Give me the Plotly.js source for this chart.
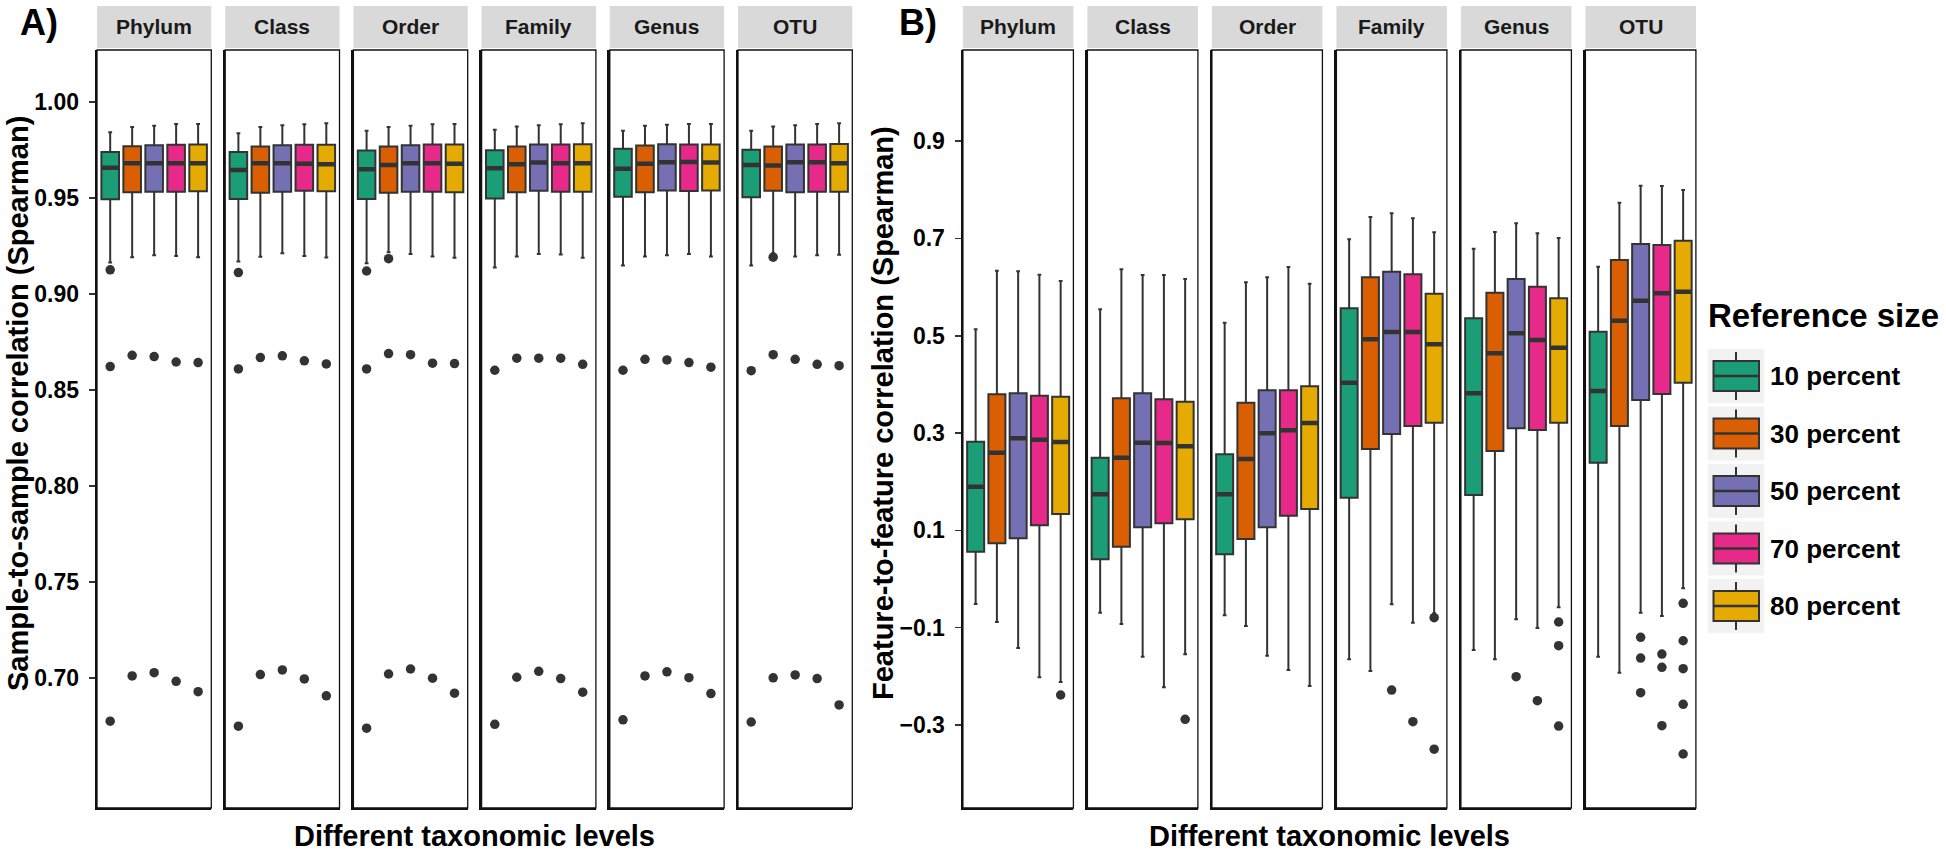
<!DOCTYPE html>
<html>
<head>
<meta charset="utf-8">
<script src="https://cdn.plot.ly/plotly-3.0.1.min.js"></script>
<style>html,body{margin:0;padding:0;background:#fff;}#chart{width:1946px;height:851px;}</style>
</head>
<body>
<div id="chart"></div>
<script>
// ---------------- DATA ----------------
const levels = ['Phylum', 'Class', 'Order', 'Family', 'Genus', 'OTU'];
const refSizes = ['10 percent', '30 percent', '50 percent', '70 percent', '80 percent'];
const sizeColors = ['#1B9E77', '#D95F02', '#7570B3', '#E7298A', '#E6AB02'];

// Panel A: sample-to-sample correlation, one row per taxonomic level, one value per reference size
const sampleLowerWhisker = [
  [0.9165, 0.9193, 0.9203, 0.9199, 0.9193],
  [0.9170, 0.9195, 0.9214, 0.9199, 0.9191],
  [0.9161, 0.9219, 0.9210, 0.9197, 0.9190],
  [0.9139, 0.9197, 0.9210, 0.9207, 0.9190],
  [0.9149, 0.9197, 0.9203, 0.9210, 0.9197],
  [0.9150, 0.9214, 0.9197, 0.9203, 0.9205]
];
const sampleQ1 = [
  [0.9495, 0.9531, 0.9534, 0.9534, 0.9536],
  [0.9496, 0.9529, 0.9534, 0.9539, 0.9536],
  [0.9496, 0.9529, 0.9534, 0.9534, 0.9531],
  [0.9498, 0.9531, 0.9539, 0.9534, 0.9534],
  [0.9508, 0.9531, 0.9540, 0.9538, 0.9540],
  [0.9505, 0.9539, 0.9531, 0.9534, 0.9534]
];
const sampleMedian = [
  [0.9659, 0.9682, 0.9682, 0.9682, 0.9682],
  [0.9647, 0.9682, 0.9682, 0.9679, 0.9677],
  [0.9651, 0.9673, 0.9682, 0.9682, 0.9679],
  [0.9656, 0.9677, 0.9686, 0.9682, 0.9682],
  [0.9653, 0.9679, 0.9687, 0.9689, 0.9686],
  [0.9673, 0.9670, 0.9687, 0.9687, 0.9682]
];
const sampleQ3 = [
  [0.9741, 0.9771, 0.9776, 0.9778, 0.9780],
  [0.9741, 0.9769, 0.9776, 0.9778, 0.9778],
  [0.9748, 0.9769, 0.9776, 0.9780, 0.9780],
  [0.9750, 0.9769, 0.9780, 0.9780, 0.9781],
  [0.9758, 0.9774, 0.9781, 0.9780, 0.9780],
  [0.9753, 0.9769, 0.9780, 0.9780, 0.9783]
];
const sampleUpperWhisker = [
  [0.9844, 0.9871, 0.9877, 0.9887, 0.9887],
  [0.9839, 0.9871, 0.9880, 0.9885, 0.9890],
  [0.9851, 0.9871, 0.9877, 0.9885, 0.9887],
  [0.9856, 0.9873, 0.9880, 0.9885, 0.9890],
  [0.9851, 0.9878, 0.9883, 0.9887, 0.9887],
  [0.9851, 0.9873, 0.9880, 0.9887, 0.9890]
];
const sampleOutliers = [
  [[0.9127, 0.8623, 0.6776], [0.8682, 0.7012], [0.8675, 0.7029], [0.8647, 0.6984], [0.8644, 0.6930]],
  [[0.9113, 0.8611, 0.6750], [0.8670, 0.7019], [0.8679, 0.7043], [0.8653, 0.6996], [0.8637, 0.6908]],
  [[0.9121, 0.8611, 0.6740], [0.9185, 0.8691, 0.7022], [0.8685, 0.7048], [0.8641, 0.7000], [0.8639, 0.6922]],
  [[0.8604, 0.6760], [0.8667, 0.7005], [0.8667, 0.7036], [0.8667, 0.6998], [0.8635, 0.6927]],
  [[0.8604, 0.6783], [0.8661, 0.7012], [0.8658, 0.7033], [0.8644, 0.7003], [0.8620, 0.6920]],
  [[0.8602, 0.6772], [0.9193, 0.8685, 0.7002], [0.8661, 0.7017], [0.8635, 0.6998], [0.8628, 0.6861]]
];
const sampleTicks = [0.70, 0.75, 0.80, 0.85, 0.90, 0.95, 1.00];

// Panel B: feature-to-feature correlation
const featureLowerWhisker = [
  [-0.0515, -0.0885, -0.1420, -0.2022, -0.2118],
  [-0.0694, -0.0926, -0.1598, -0.2227, -0.1550],
  [-0.0747, -0.0967, -0.1577, -0.1871, -0.2200],
  [-0.1652, -0.1892, -0.0521, -0.0900, -0.0706],
  [-0.1460, -0.1652, -0.0830, -0.1008, -0.0583],
  [-0.1598, -0.1927, -0.0694, -0.0762, -0.0192]
];
const featureQ1 = [
  [0.0560, 0.0733, 0.0836, 0.1103, 0.1335],
  [0.0404, 0.0663, 0.1062, 0.1144, 0.1226],
  [0.0507, 0.0821, 0.1062, 0.1300, 0.1438],
  [0.1670, 0.2671, 0.2980, 0.3144, 0.3212],
  [0.1726, 0.2630, 0.3097, 0.3062, 0.3212],
  [0.2389, 0.3144, 0.3678, 0.3802, 0.4034]
];
const featureMedian = [
  [0.1896, 0.2594, 0.2891, 0.2862, 0.2815],
  [0.1740, 0.2492, 0.2801, 0.2794, 0.2727],
  [0.1740, 0.2465, 0.2994, 0.3056, 0.3206],
  [0.4034, 0.4926, 0.5076, 0.5076, 0.4823],
  [0.3816, 0.4638, 0.5049, 0.4912, 0.4753],
  [0.3863, 0.5308, 0.5719, 0.5872, 0.5904]
];
const featureQ3 = [
  [0.2821, 0.3795, 0.3816, 0.3767, 0.3746],
  [0.2492, 0.3713, 0.3816, 0.3692, 0.3643],
  [0.2562, 0.3623, 0.3878, 0.3878, 0.3960],
  [0.5563, 0.6200, 0.6316, 0.6262, 0.5863],
  [0.5358, 0.5884, 0.6165, 0.6007, 0.5769],
  [0.5082, 0.6556, 0.6885, 0.6864, 0.6953]
];
const featureUpperWhisker = [
  [0.5132, 0.6336, 0.6323, 0.6254, 0.6124],
  [0.5543, 0.6365, 0.6248, 0.6248, 0.6165],
  [0.5267, 0.6098, 0.6200, 0.6412, 0.6069],
  [0.6982, 0.7440, 0.7516, 0.7413, 0.7125],
  [0.6788, 0.7132, 0.7310, 0.7105, 0.7008],
  [0.6418, 0.7734, 0.8083, 0.8077, 0.7995]
];
const featureOutliers = [
  [[], [], [], [], [-0.2385]],
  [[], [], [], [], [-0.2885]],
  [[], [], [], [], []],
  [[], [], [-0.2283], [-0.2934], [-0.0796, -0.3500]],
  [[], [], [-0.2009], [-0.2503], [-0.0885, -0.1372, -0.3023]],
  [[], [], [-0.1200, -0.1625, -0.2338], [-0.1543, -0.1816, -0.3016], [-0.0500, -0.1270, -0.1844, -0.2577, -0.3598]]
];
const featureTicks = [-0.3, -0.1, 0.1, 0.3, 0.5, 0.7, 0.9];

// ---------------- LAYOUT HELPERS ----------------
const W = 1946, H = 851;
const fx = p => p / W;
const fy = p => 1 - p / H;
const FONT = 'Liberation Sans, Arial, Helvetica, sans-serif';
const INK = '#333333';
const BOXW = 0.8;

const panels = [
  { left: 97, step: 128.2, width: 114.3, range: [0.6324, 1.0272], ticks: sampleTicks, fmt: '.2f',
    lw: sampleLowerWhisker, q1: sampleQ1, med: sampleMedian, q3: sampleQ3, uw: sampleUpperWhisker, out: sampleOutliers },
  { left: 962.9, step: 124.5, width: 110.5, range: [-0.4708, 1.0873], ticks: featureTicks, fmt: '.1f',
    lw: featureLowerWhisker, q1: featureQ1, med: featureMedian, q3: featureQ3, uw: featureUpperWhisker, out: featureOutliers }
];

const traces = [];
const shapes = [];
const annotations = [];
const layout = {
  width: W, height: H,
  margin: { l: 0, r: 0, t: 0, b: 0, pad: 0 },
  paper_bgcolor: '#ffffff', plot_bgcolor: '#ffffff',
  showlegend: false,
  font: { family: FONT, color: '#000000' }
};

const plotTop = 50, plotBottom = 808;

panels.forEach((p, pi) => {
  levels.forEach((lev, li) => {
    const n = pi * levels.length + li;
    const sfx = n === 0 ? '' : String(n + 1);
    const xa = 'x' + sfx, ya = 'y' + sfx;
    const x0 = p.left + li * p.step, x1 = x0 + p.width;
    layout['xaxis' + sfx] = {
      domain: [fx(x0), fx(x1)], range: [0.4, 5.6], anchor: ya,
      showticklabels: false, ticks: '', showgrid: false, zeroline: false,
      showline: true, linecolor: '#111111', linewidth: 2.4, fixedrange: true
    };
    layout['yaxis' + sfx] = {
      domain: [fy(plotBottom), fy(plotTop)], range: p.range, anchor: xa,
      showgrid: false, zeroline: false, showline: true, linecolor: '#111111', linewidth: 2.4,
      showticklabels: li === 0, ticks: li === 0 ? 'outside' : '', ticklen: 6, tickwidth: 1.6, tickcolor: INK,
      tickvals: p.ticks, tickformat: p.fmt, ticklabelstandoff: 5,
      tickfont: { family: FONT, size: 23, color: '#000000', weight: 'bold' }, fixedrange: true
    };
    // thin full panel border
    shapes.push({ type: 'rect', xref: xa + ' domain', yref: ya + ' domain', x0: 0, x1: 1, y0: 0, y1: 1,
      line: { color: '#111111', width: 1.3 }, fillcolor: 'rgba(0,0,0,0)', layer: 'above' });
    // facet strip
    shapes.push({ type: 'rect', xref: xa + ' domain', yref: 'paper', x0: 0, x1: 1, y0: fy(48), y1: fy(6),
      line: { width: 0 }, fillcolor: '#D9D9D9', layer: 'below' });
    annotations.push({ xref: xa + ' domain', yref: 'paper', x: 0.5, y: fy(27), text: '<b>' + lev + '</b>',
      showarrow: false, xanchor: 'center', yanchor: 'middle', font: { family: FONT, size: 21, color: '#1a1a1a' } });

    const medX = [], medY = [], outX = [], outY = [];
    refSizes.forEach((rs, si) => {
      const pos = si + 1;
      traces.push({
        type: 'box', xaxis: xa, yaxis: ya, name: rs,
        x: [pos], q1: [p.q1[li][si]], median: [p.med[li][si]], q3: [p.q3[li][si]],
        lowerfence: [p.lw[li][si]], upperfence: [p.uw[li][si]],
        width: BOXW, whiskerwidth: 0.22, boxpoints: false,
        fillcolor: sizeColors[si], line: { color: INK, width: 2 },
        showlegend: false, hoverinfo: 'skip'
      });
      medX.push(pos - BOXW / 2, pos + BOXW / 2, null);
      medY.push(p.med[li][si], p.med[li][si], null);
      p.out[li][si].forEach(v => { outX.push(pos); outY.push(v); });
    });
    traces.push({ type: 'scatter', mode: 'lines', xaxis: xa, yaxis: ya, x: medX, y: medY,
      line: { color: INK, width: 4.5 }, showlegend: false, hoverinfo: 'skip' });
    traces.push({ type: 'scatter', mode: 'markers', xaxis: xa, yaxis: ya, x: outX, y: outY,
      marker: { color: INK, size: 9.5 }, showlegend: false, hoverinfo: 'skip' });
  });
});

// panel tags
annotations.push({ xref: 'paper', yref: 'paper', x: fx(18), y: fy(0), text: '<b>A)</b>', showarrow: false,
  xanchor: 'left', yanchor: 'top', font: { family: FONT, size: 36, color: '#000' } });
annotations.push({ xref: 'paper', yref: 'paper', x: fx(897), y: fy(0), text: '<b>B)</b>', showarrow: false,
  xanchor: 'left', yanchor: 'top', font: { family: FONT, size: 36, color: '#000' } });

// axis titles
const titleFont = { family: FONT, size: 29, color: '#000' };
annotations.push({ xref: 'paper', yref: 'paper', x: fx(474), y: fy(836), text: '<b>Different taxonomic levels</b>',
  showarrow: false, xanchor: 'center', yanchor: 'middle', font: titleFont });
annotations.push({ xref: 'paper', yref: 'paper', x: fx(1329), y: fy(836), text: '<b>Different taxonomic levels</b>',
  showarrow: false, xanchor: 'center', yanchor: 'middle', font: titleFont });
annotations.push({ xref: 'paper', yref: 'paper', x: fx(0), y: fy(404), text: '<b>Sample-to-sample correlation (Spearman)</b>',
  showarrow: false, textangle: -90, xanchor: 'left', yanchor: 'middle', font: titleFont });
annotations.push({ xref: 'paper', yref: 'paper', x: fx(883), y: fy(413), text: '<b>Feature-to-feature correlation (Spearman)</b>',
  showarrow: false, textangle: -90, xanchor: 'center', yanchor: 'middle', font: titleFont });

// legend (ggplot-style keys)
const legX0 = 1708, legX1 = 1764, legMid = (legX0 + legX1) / 2;
annotations.push({ xref: 'paper', yref: 'paper', x: fx(legX0 - 2), y: fy(315), text: '<b>Reference size</b>',
  showarrow: false, xanchor: 'left', yanchor: 'middle', font: { family: FONT, size: 33, color: '#000' } });
refSizes.forEach((rs, si) => {
  const yc = 376 + si * 57.5;
  shapes.push({ type: 'rect', xref: 'paper', yref: 'paper', x0: fx(legX0), x1: fx(legX1), y0: fy(yc + 27), y1: fy(yc - 27),
    line: { width: 0 }, fillcolor: '#F2F2F2' });
  shapes.push({ type: 'line', xref: 'paper', yref: 'paper', x0: fx(legMid), x1: fx(legMid), y0: fy(yc + 24), y1: fy(yc - 24),
    line: { color: INK, width: 2 } });
  shapes.push({ type: 'rect', xref: 'paper', yref: 'paper', x0: fx(legX0 + 5.5), x1: fx(legX1 - 5), y0: fy(yc + 15), y1: fy(yc - 15),
    line: { color: INK, width: 2 }, fillcolor: sizeColors[si] });
  shapes.push({ type: 'line', xref: 'paper', yref: 'paper', x0: fx(legX0 + 5.5), x1: fx(legX1 - 5), y0: fy(yc), y1: fy(yc),
    line: { color: INK, width: 2.5 } });
  annotations.push({ xref: 'paper', yref: 'paper', x: fx(1768), y: fy(yc), text: '<b>' + rs + '</b>',
    showarrow: false, xanchor: 'left', yanchor: 'middle', font: { family: FONT, size: 26, color: '#000' } });
});

layout.shapes = shapes;
layout.annotations = annotations;

Plotly.newPlot('chart', traces, layout, { displayModeBar: false, staticPlot: true });
</script>
</body>
</html>
